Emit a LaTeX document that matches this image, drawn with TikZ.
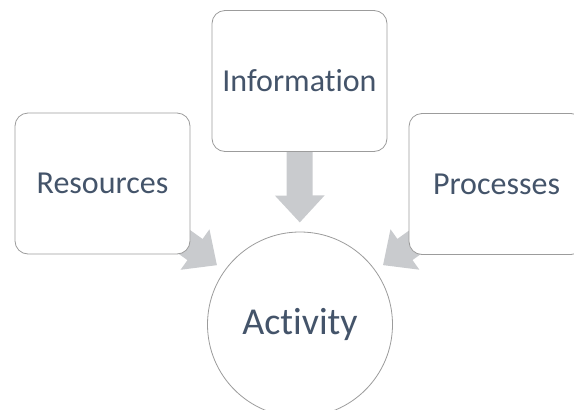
\documentclass[tikz,border=0pt]{standalone}
\usepackage{fontspec}
\setmainfont{Carlito}[Ligatures=CommonOff]
\usetikzlibrary{arrows.meta,backgrounds}
\definecolor{txt}{HTML}{44546A}
\definecolor{arrowgray}{HTML}{C9CBCE}
\definecolor{edge}{HTML}{9C9C9C}
\tikzset{
  box/.style={draw=edge, line width=0.8pt, fill=white, rounded corners=13pt,
    minimum width=175pt, minimum height=141pt, inner sep=0pt,
    text=txt, font=\fontsize{32}{38}\selectfont},
  hub/.style={draw=edge, line width=0.8pt, fill=white, circle,
    minimum size=185pt, inner sep=0pt,
    text=txt, font=\fontsize{38}{44}\selectfont},
  bigarrow/.style={draw=arrowgray, line width=26pt,
    -{Triangle[width=48pt,length=27pt]}, shorten >=102pt}
}
\begin{document}
\begin{tikzpicture}[x=1pt,y=-1pt]
\clip (0,0) rectangle (574,410);
\node[box] (res) at (102.5,183.5) {Resources};
\node[box] (info) at (299.5,81) {Information};
\node[box] (proc) at (496.5,184) {Processes};
\node[hub] (act) at (300,324.5) {Activity};
\begin{scope}[on background layer]
\draw[bigarrow] (res.center) -- (act.center);
\draw[bigarrow] (info.center) -- (act.center);
\draw[bigarrow] (proc.center) -- (act.center);
\end{scope}
\end{tikzpicture}
\end{document}
